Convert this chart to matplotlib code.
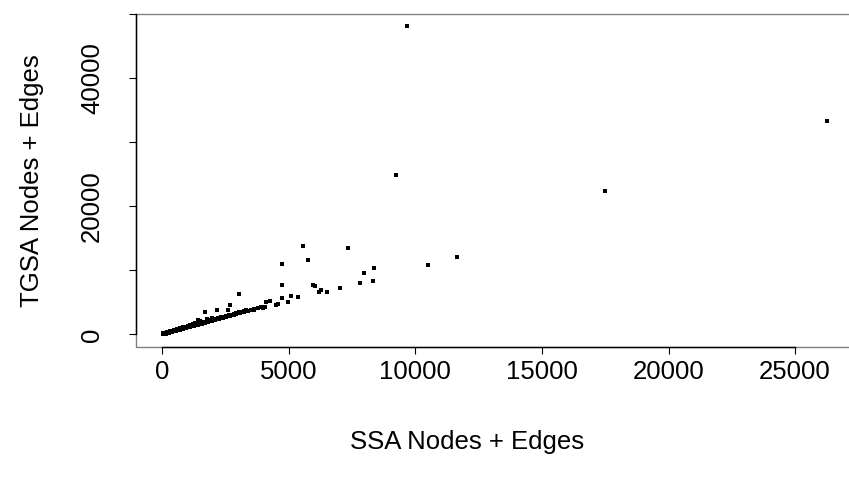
import matplotlib
matplotlib.use("Agg")
import matplotlib.pyplot as plt
from matplotlib.patches import Rectangle

# values
# dense band near the diagonal (lower edge)
band_x = [15, 30, 45, 60, 80, 95, 110, 130, 150, 170, 190, 210, 230, 255, 280,
          300, 325, 350, 375, 400, 425, 450, 480, 510, 540, 570, 600, 630, 660,
          690, 720, 750, 790, 830, 870, 910, 950, 990, 1030, 1070, 1110, 1150,
          1200, 1250, 1300, 1350, 1400, 1450, 1500, 1560, 1620, 1680, 1740,
          1800, 1860, 1920, 1980, 2040, 2100, 2170, 2240, 2310, 2380, 2450,
          2520, 2600, 2680, 2760, 2840, 2920, 3000, 3080, 3160, 3240, 3320,
          3400, 3500, 3620, 3780, 3900]
band_y = [20, 35, 50, 65, 85, 100, 120, 140, 165, 185, 205, 230, 250, 280, 300,
          330, 350, 380, 410, 430, 465, 490, 520, 560, 590, 620, 650, 690, 720,
          750, 790, 820, 860, 900, 950, 990, 1040, 1080, 1120, 1170, 1210, 1250,
          1310, 1360, 1420, 1470, 1530, 1580, 1640, 1700, 1770, 1830, 1900,
          1960, 2030, 2090, 2160, 2220, 2290, 2370, 2440, 2520, 2600, 2670,
          2750, 2840, 2920, 3010, 3090, 3180, 3270, 3360, 3440, 3530, 3620,
          3700, 3800, 3900, 4050, 4200]
# upper edge of the band
band2_x = [40, 90, 140, 190, 240, 300, 360, 420, 480, 540, 600, 660, 720, 790,
           860, 930, 1000, 1080, 1160, 1240, 1320, 1400, 1480, 1570, 1660,
           1750, 1840, 1930, 2020, 2120, 2220, 2320, 2420, 2520, 2620, 2720,
           2820, 2920, 3020, 3120, 3220, 3320]
band2_y = [160, 220, 280, 340, 390, 460, 520, 590, 650, 720, 790, 850, 920,
           1000, 1080, 1160, 1240, 1330, 1420, 1510, 1600, 1690, 1780, 1880,
           1980, 2070, 2170, 2270, 2360, 2470, 2580, 2680, 2790, 2890, 3000,
           3100, 3210, 3310, 3420, 3520, 3630, 3740]
# extra points just above the band
near_x = [300, 520, 700, 820, 1000, 1100, 1200, 1300, 1410, 1480, 1680, 1780,
          1950, 2160, 2300, 2610, 2690, 2850, 3300, 3620]
near_y = [450, 700, 950, 1150, 1300, 1500, 1600, 1750, 2230, 2050, 3430, 2430,
          2500, 3750, 2700, 3750, 4530, 3200, 3590, 3750]
# outliers
out_x = [3044, 3965, 4044, 4083, 4253, 4506, 4585, 4728, 4953, 5083, 5376,
         4744, 4728, 5546, 5744, 5941, 6032, 6206, 6269, 6495, 7009, 7337,
         7827, 7958, 8313, 8353, 9223, 9684, 10487, 11634, 17483, 26257]
out_y = [6291, 4059, 4215, 4995, 5151, 4574, 4683, 5620, 4995, 5932, 5776,
         7649, 10974, 13784, 11551, 7696, 7493, 6603, 6868, 6556, 7181, 13425,
         7961, 9522, 8320, 10303, 24930, 48127, 10818, 12066, 22323, 33344]

ssa = band_x + band2_x + near_x + out_x
tgsa = band_y + band2_y + near_y + out_y

plt.rcParams['font.family'] = ['Liberation Sans', 'DejaVu Sans']

fig = plt.figure(figsize=(8.49, 4.83), dpi=100)
ax = fig.add_axes([136.1 / 849, 136.4 / 483, 717.4 / 849, 332.9 / 483])

ax.plot(ssa, tgsa, linestyle='none', marker='s', ms=2.4, mew=0, color='black')

# R style limits: data range padded by 4%
xpad = 0.04 * (max(ssa) - min(ssa))
ypad = 0.04 * (max(tgsa) - min(tgsa))
ax.set_xlim(min(ssa) - xpad, max(ssa) + xpad)
ax.set_ylim(min(tgsa) - ypad, max(tgsa) + ypad)

xticks = [0, 5000, 10000, 15000, 20000, 25000]
yticks = [0, 10000, 20000, 30000, 40000, 50000]
ax.set_xticks(xticks)
ax.set_xticklabels([str(t) for t in xticks])
ax.set_yticks(yticks)
ax.set_yticklabels(['0', '', '20000', '', '40000', ''], rotation=90, va='center')

for s in ax.spines.values():
    s.set_visible(False)
ax.add_patch(Rectangle((0, 0), 1, 1, transform=ax.transAxes, fill=False,
                       edgecolor='#808080', lw=1, clip_on=False))
ax.spines['left'].set_visible(True)
ax.spines['bottom'].set_visible(True)
ax.spines['left'].set_bounds(0, 50000)
ax.spines['bottom'].set_bounds(0, 25000)
ax.spines['left'].set_linewidth(1)
ax.spines['bottom'].set_linewidth(1)

ax.tick_params(axis='x', length=5, width=0.8, labelsize=18.5, pad=5)
ax.tick_params(axis='y', length=5, width=0.8, labelsize=18.5, pad=18)

ax.set_xlabel('SSA Nodes + Edges', fontsize=18.5)
ax.xaxis.set_label_coords(0.462, -0.25)
ax.set_ylabel('TGSA Nodes + Edges', fontsize=18.5, labelpad=26)

fig.savefig('out.png', dpi=100)
